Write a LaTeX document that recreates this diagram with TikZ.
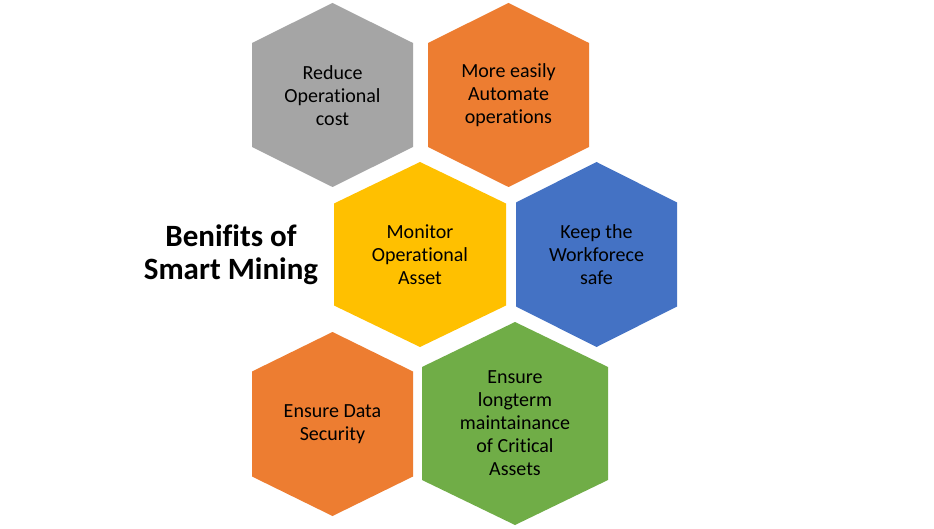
\documentclass[tikz,border=0pt]{standalone}
\usepackage{fontspec}
\setmainfont{Carlito}[Ligatures=NoCommon]
\definecolor{hgray}{HTML}{A5A5A5}
\definecolor{horange}{HTML}{ED7D31}
\definecolor{hyellow}{HTML}{FFC000}
\definecolor{hblue}{HTML}{4472C4}
\definecolor{hgreen}{HTML}{70AD47}
\newcommand\hexshape[6]{%
  \fill[#6] (#1-#3,#2-#5) -- (#1,#2-#4) -- (#1+#3,#2-#5) -- (#1+#3,#2+#5) -- (#1,#2+#4) -- (#1-#3,#2+#5) -- cycle;}
\begin{document}
\begin{tikzpicture}[x=1pt,y=-1pt,
  hextext/.style={align=center,text=black,inner sep=0pt,font=\fontsize{20}{23}\selectfont},
  titletext/.style={align=center,text=black,inner sep=0pt,font=\bfseries\fontsize{31}{33}\selectfont}]
\useasboundingbox[fill=white] (0,0) rectangle (934,529);
\hexshape{332.5}{95}{80.5}{92}{52}{hgray}
\hexshape{508.5}{95}{80.5}{92}{52}{horange}
\hexshape{420}{254.5}{86}{92.5}{51}{hyellow}
\hexshape{596.5}{254.5}{80.5}{92.5}{52}{hblue}
\hexshape{332.5}{424}{80.5}{92}{52.5}{horange}
\hexshape{515}{423.5}{93}{101.5}{56.5}{hgreen}
\node[hextext] (reduce) at (332.5,95.5) {Reduce\\Operational\\cost};
\node[hextext] (automate) at (508.5,95.5) {More easily\\Automate\\operations};
\node[hextext] (monitor) at (420,255) {Monitor\\Operational\\Asset};
\node[hextext] (keep) at (596.5,255) {Keep the\\Workforece\\safe};
\node[hextext] (security) at (332.5,424) {Ensure Data\\Security};
\node[hextext] (longterm) at (515,423.5) {Ensure\\longterm\\maintainance\\of Critical\\Assets};
\node[titletext] (title) at (231,255) {Benifits of\\Smart Mining};
\end{tikzpicture}
\end{document}
